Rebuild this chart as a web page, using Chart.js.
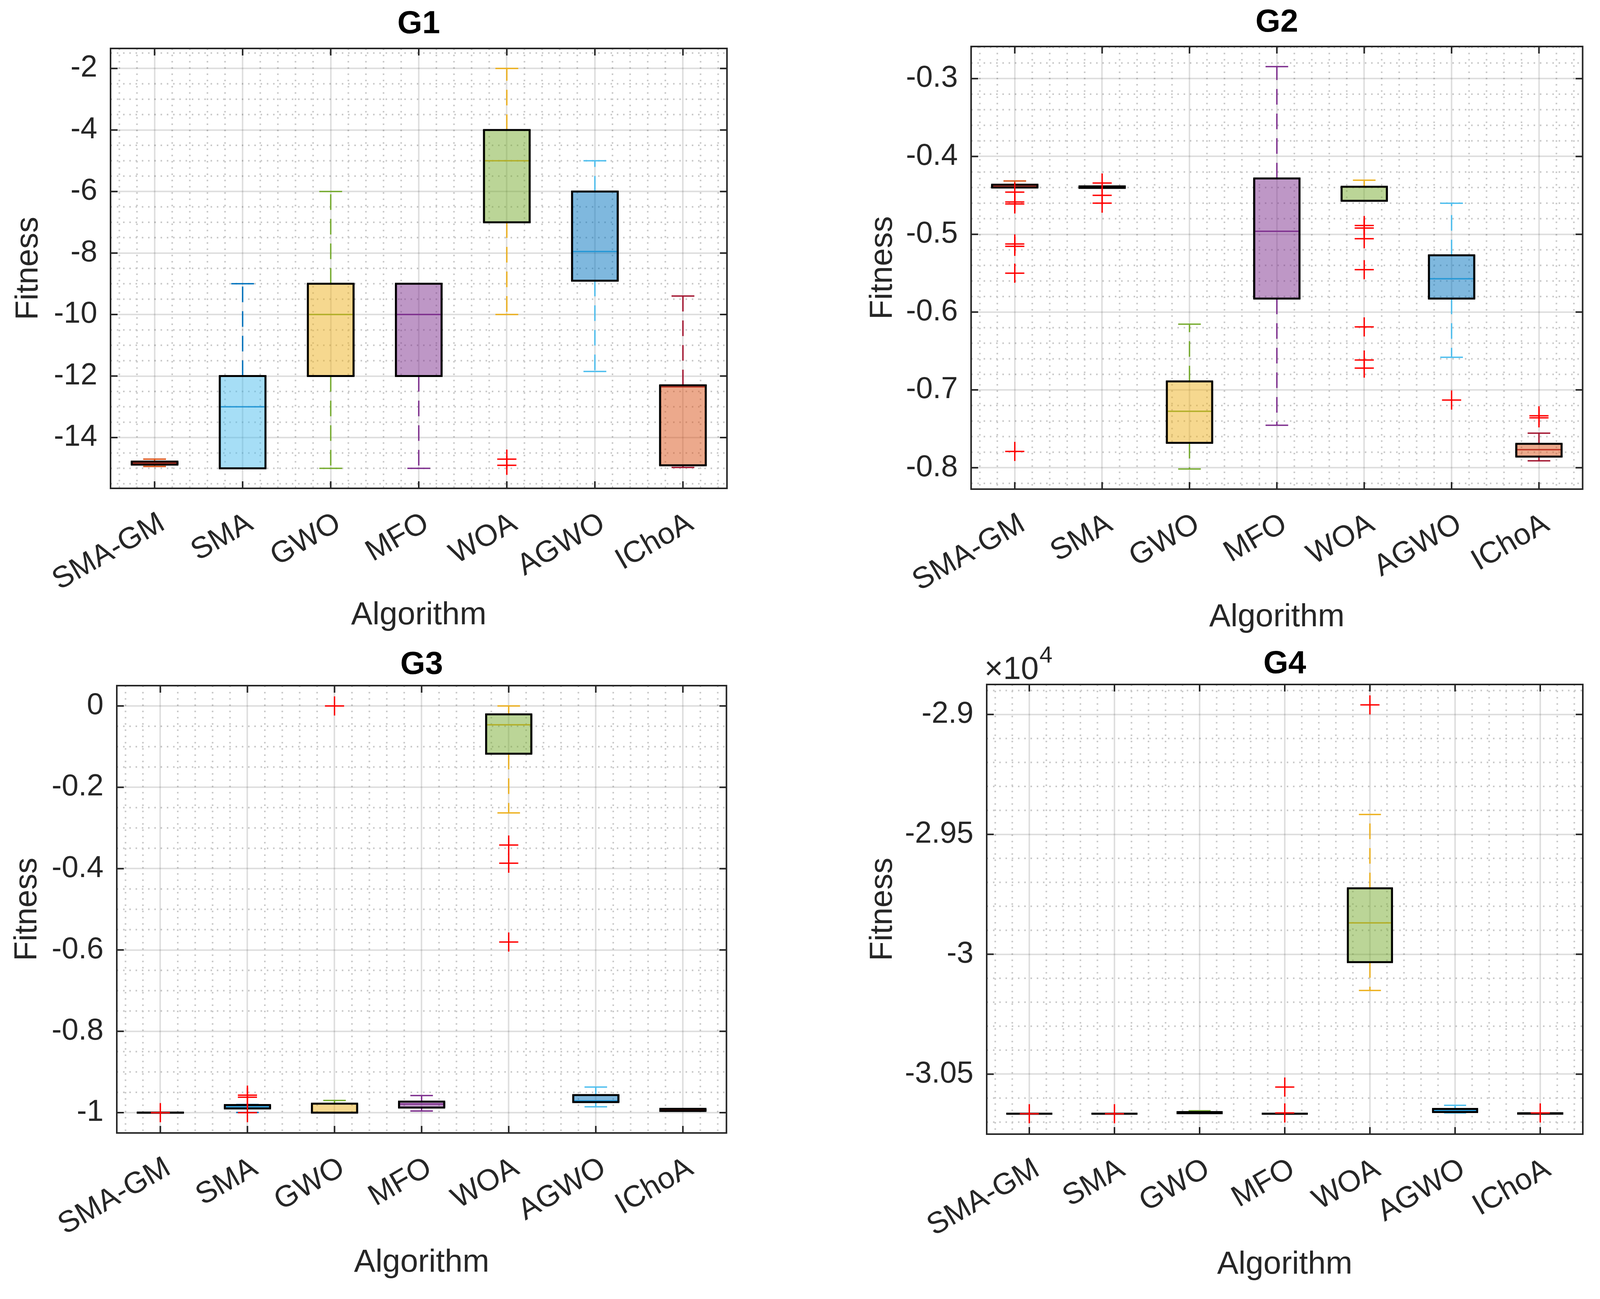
<!DOCTYPE html>
<html>
<head>
<meta charset="utf-8">
<script src="https://cdn.jsdelivr.net/npm/chart.js@4.4.1/dist/chart.umd.min.js"></script>
<style>
    html, body { margin: 0; padding: 0; background: #fff; }
    body { position: relative; width: 4117px; height: 3325px; overflow: hidden; }
    canvas { position: absolute; }
</style>
</head>
<body>
<canvas id="g1"></canvas>
<canvas id="g2"></canvas>
<canvas id="g3"></canvas>
<canvas id="g4"></canvas>
<script>
const algorithms = ["SMA-GM", "SMA", "GWO", "MFO", "WOA", "AGWO", "IChoA"];

// G1
const g1Min = [-14.94, -15.0, -15.0, -15.0, -10.0, -11.85, -14.97];
const g1Q1 = [-14.88, -15.0, -12.0, -12.0, -7.0, -8.9, -14.9];
const g1Med = [-14.83, -13.0, -10.0, -10.0, -5.0, -7.95, -12.35];
const g1Q3 = [-14.78, -12.0, -9.0, -9.0, -4.0, -6.0, -12.3];
const g1Max = [-14.7, -9.0, -6.0, -9.0, -2.0, -5.0, -9.4];
const g1Out = [[], [], [], [], [-14.7, -14.9], [], []];
const g1YTicks = [-14, -12, -10, -8, -6, -4, -2];
const g1YLabels = ["-14", "-12", "-10", "-8", "-6", "-4", "-2"];

// G2
const g2Min = [-0.44, -0.4405, -0.8016, -0.7454, -0.457, -0.658, -0.791];
const g2Q1 = [-0.44, -0.4405, -0.768, -0.5826, -0.457, -0.5826, -0.7857];
const g2Med = [-0.4384, -0.44, -0.7274, -0.4962, -0.4392, -0.5572, -0.7767];
const g2Q3 = [-0.4363, -0.4385, -0.689, -0.4283, -0.4389, -0.527, -0.7692];
const g2Max = [-0.4315, -0.4385, -0.6155, -0.2846, -0.4305, -0.4601, -0.7555];
const g2Out = [
    [-0.4458, -0.4585, -0.461, -0.5125, -0.5155, -0.55, -0.779],
    [-0.4342, -0.45, -0.46],
    [],
    [],
    [-0.4888, -0.492, -0.5057, -0.5455, -0.619, -0.6616, -0.672],
    [-0.713],
    [-0.7332, -0.7358],
];
const g2YTicks = [-0.8, -0.7, -0.6, -0.5, -0.4, -0.3];
const g2YLabels = ["-0.8", "-0.7", "-0.6", "-0.5", "-0.4", "-0.3"];

// G3
const g3Min = [-1.0, -0.9995, -1.0, -0.996, -0.263, -0.9856, -0.996];
const g3Q1 = [-1.0, -0.9897, -1.0, -0.9876, -0.1175, -0.974, -0.996];
const g3Med = [-1.0, -0.9856, -0.9995, -0.979, -0.0464, -0.971, -0.993];
const g3Q3 = [-1.0, -0.9814, -0.978, -0.973, -0.0206, -0.9567, -0.9907];
const g3Max = [-1.0, -0.98, -0.97, -0.958, 0.0, -0.937, -0.9907];
const g3Out = [[-1.0], [-0.957, -0.962, -1.0], [0.0], [], [-0.342, -0.3866, -0.5804], [], []];
const g3YTicks = [-1, -0.8, -0.6, -0.4, -0.2, 0];
const g3YLabels = ["-1", "-0.8", "-0.6", "-0.4", "-0.2", "0"];

// G4
const g4Min = [-30665, -30665, -30663, -30665, -30151, -30662, -30665];
const g4Q1 = [-30665, -30665, -30663, -30665, -30033, -30658, -30665];
const g4Med = [-30665, -30665, -30660, -30665, -29869, -30652, -30663];
const g4Q3 = [-30665, -30665, -30658, -30665, -29725, -30645, -30663];
const g4Max = [-30665, -30665, -30653, -30665, -29417, -30630, -30663];
const g4Out = [[-30665], [-30665], [], [-30554, -30662], [-28960], [], [-30662]];
const g4YTicks = [-30500, -30000, -29500, -29000];
const g4YLabels = ["-3.05", "-3", "-2.95", "-2.9"];

const lineColors = ["#D95319", "#0072BD", "#77AC30", "#7E2F8E", "#EDB120", "#4DBEEE", "#A2142F"];
const fillColors = [
    "rgba(162,20,47,0.5)",
    "rgba(77,190,238,0.5)",
    "rgba(237,177,32,0.5)",
    "rgba(126,47,142,0.5)",
    "rgba(119,172,48,0.5)",
    "rgba(0,114,189,0.5)",
    "rgba(217,83,25,0.5)",
];

Chart.defaults.font.family = '"Liberation Sans", Arial, sans-serif';
Chart.defaults.color = "#262626";

// minor grid, box frame, inward ticks, exponent label
const matlabAxes = {
    id: "matlabAxes",
    beforeDatasetsDraw(chart, args, opts) {
        const { ctx, chartArea: a, scales } = chart;
        const x = scales.x, y = scales.y;
        ctx.save();
        ctx.beginPath();
        ctx.rect(a.left, a.top, a.width, a.height);
        ctx.clip();
        ctx.strokeStyle = "rgba(38,38,38,0.25)";
        ctx.lineWidth = 4;
        ctx.setLineDash([4, 12]);
        ctx.beginPath();
        for (let k = Math.ceil(y.min / opts.yMinor); k * opts.yMinor <= y.max; k++) {
            if (k % opts.yRatio === 0) continue;
            const py = y.getPixelForValue(k * opts.yMinor);
            ctx.moveTo(a.left, py);
            ctx.lineTo(a.right, py);
        }
        for (let k = Math.ceil(x.min / 0.2); k * 0.2 <= x.max; k++) {
            if (k % 5 === 0) continue;
            const px = x.getPixelForValue(k * 0.2);
            ctx.moveTo(px, a.top);
            ctx.lineTo(px, a.bottom);
        }
        ctx.stroke();
        ctx.restore();
    },
    afterDatasetsDraw(chart, args, opts) {
        const { ctx, chartArea: a, scales } = chart;
        const x = scales.x, y = scales.y;
        ctx.save();
        ctx.strokeStyle = "#262626";
        ctx.lineWidth = 4;
        ctx.beginPath();
        y.ticks.forEach((t) => {
            const py = y.getPixelForValue(t.value);
            ctx.moveTo(a.left, py);
            ctx.lineTo(a.left + 18, py);
            ctx.moveTo(a.right, py);
            ctx.lineTo(a.right - 18, py);
        });
        x.ticks.forEach((t) => {
            const px = x.getPixelForValue(t.value);
            ctx.moveTo(px, a.bottom);
            ctx.lineTo(px, a.bottom - 18);
            ctx.moveTo(px, a.top);
            ctx.lineTo(px, a.top + 18);
        });
        ctx.stroke();
        ctx.strokeRect(a.left, a.top, a.width, a.height);
        if (opts.exponent) {
            ctx.fillStyle = "#262626";
            ctx.textAlign = "left";
            ctx.textBaseline = "alphabetic";
            ctx.font = '82px "Liberation Sans", Arial, sans-serif';
            const bx = a.left - 6;
            const by = a.top - 14;
            ctx.fillText("\u00d710", bx, by);
            const w = ctx.measureText("\u00d710").width;
            ctx.font = '60px "Liberation Sans", Arial, sans-serif';
            ctx.fillText(opts.exponent, bx + w + 2, by - 42);
        }
        ctx.restore();
    },
};

function boxChart(p, d) {
    const el = document.getElementById(p.id);
    const width = p.R + 8 - p.left;
    const height = 124 + (p.B - p.T) + p.XH;
    el.width = width;
    el.height = height;
    el.style.left = p.left + "px";
    el.style.top = p.T - 124 + "px";

    const xs = algorithms.map((_, i) => i + 1);
    const boxPx = ((p.R - p.L) / algorithms.length) * 0.5;
    const all = d.min.concat(d.max, d.out.flat());
    const lo = Math.min(...all);
    const hi = Math.max(...all);
    const pad = (hi - lo) * 0.05;
    const titleTop = 124 - p.titleGap - 49.2;

    const datasets = [];
    xs.forEach((x, i) => {
        const whisker = {
            type: "line",
            borderColor: lineColors[i],
            borderWidth: 3.5,
            borderDash: [40, 23],
            pointRadius: 0,
            fill: false,
            order: 3,
        };
        datasets.push({ ...whisker, data: [{ x, y: d.q3[i] }, { x, y: d.max[i] }] });
        datasets.push({ ...whisker, data: [{ x, y: d.q1[i] }, { x, y: d.min[i] }] });
    });
    // whisker caps
    datasets.push({
        type: "scatter",
        data: xs.flatMap((x, i) => [{ x, y: d.max[i] }, { x, y: d.min[i] }]),
        pointStyle: "line",
        pointRadius: boxPx / 4,
        pointBorderWidth: 3.5,
        pointBorderColor: xs.flatMap((x, i) => [lineColors[i], lineColors[i]]),
        order: 3,
    });
    // medians
    datasets.push({
        type: "scatter",
        data: xs.map((x, i) => ({ x, y: d.med[i] })),
        pointStyle: "line",
        pointRadius: boxPx / 2,
        pointBorderWidth: 3.5,
        pointBorderColor: lineColors,
        order: 3,
    });
    // boxes
    datasets.push({
        type: "bar",
        data: xs.map((x, i) => ({ x, y: [d.q1[i], d.q3[i]] })),
        backgroundColor: fillColors,
        borderColor: "#000",
        borderWidth: { left: 5, right: 5, top: 0, bottom: 0 },
        borderSkipped: false,
        barThickness: boxPx + 5,
        order: 2,
    });
    // box top and bottom edges
    datasets.push({
        type: "scatter",
        data: xs.flatMap((x, i) => [{ x, y: d.q1[i] }, { x, y: d.q3[i] }]),
        pointStyle: "line",
        pointRadius: (boxPx + 5) / 2,
        pointBorderWidth: 5,
        pointBorderColor: "#000",
        order: 1,
    });
    // outliers
    datasets.push({
        type: "scatter",
        data: xs.flatMap((x, i) => d.out[i].map((v) => ({ x, y: v }))),
        pointStyle: "cross",
        pointRadius: 24.5,
        pointBorderWidth: 3.5,
        pointBorderColor: "#FF0000",
        order: 0,
    });

    new Chart(el, {
        type: "bar",
        data: { datasets },
        plugins: [matlabAxes],
        options: {
            responsive: false,
            animation: false,
            devicePixelRatio: 1,
            events: [],
            layout: { padding: { right: 8 } },
            plugins: {
                legend: { display: false },
                tooltip: { enabled: false },
                title: {
                    display: true,
                    text: p.title,
                    fullSize: false,
                    color: "#000",
                    font: { size: 82, weight: "bold" },
                    padding: { top: titleTop, bottom: 124 - 98.4 - titleTop },
                },
                matlabAxes: { yMinor: d.yMinor, yRatio: d.yRatio, exponent: d.exponent },
            },
            scales: {
                x: {
                    type: "linear",
                    min: 0.5,
                    max: 7.5,
                    offset: false,
                    afterFit: (s) => { s.height = p.XH; },
                    afterBuildTicks: (s) => { s.ticks = xs.map((v) => ({ value: v })); },
                    grid: { color: "rgba(38,38,38,0.15)", lineWidth: 4, drawTicks: false, offset: false },
                    border: { display: false },
                    ticks: {
                        autoSkip: false,
                        minRotation: 30,
                        maxRotation: 30,
                        padding: 44,
                        labelOffset: 20,
                        font: { size: 77 },
                        color: "#262626",
                        callback: (v) => algorithms[v - 1],
                    },
                    title: {
                        display: true,
                        text: "Algorithm",
                        font: { size: 82 },
                        color: "#262626",
                        padding: { top: 0, bottom: 0 },
                    },
                },
                y: {
                    type: "linear",
                    min: lo - pad,
                    max: hi + pad,
                    afterFit: (s) => { s.width = p.L - p.left; },
                    afterBuildTicks: (s) => { s.ticks = d.yTicks.map((v) => ({ value: v })); },
                    grid: { color: "rgba(38,38,38,0.15)", lineWidth: 4, drawTicks: false },
                    border: { display: false },
                    ticks: {
                        padding: 34,
                        font: { size: 77 },
                        color: "#262626",
                        callback: (v, i) => d.yLabels[i],
                    },
                    title: {
                        display: true,
                        text: "Fitness",
                        font: { size: 82 },
                        color: "#262626",
                        padding: { top: p.yTitlePad, bottom: 0 },
                    },
                },
            },
        },
    });
}

boxChart(
    { id: "g1", title: "G1", left: 0, L: 283, T: 124, R: 1919, B: 1250, XH: 375, yTitlePad: 24, titleGap: 62 },
    { min: g1Min, q1: g1Q1, med: g1Med, q3: g1Q3, max: g1Max, out: g1Out,
      yTicks: g1YTicks, yLabels: g1YLabels, yMinor: 0.5, yRatio: 4 }
);
boxChart(
    { id: "g2", title: "G2", left: 2187, L: 2486, T: 119, R: 4109, B: 1252, XH: 378, yTitlePad: 24, titleGap: 61 },
    { min: g2Min, q1: g2Q1, med: g2Med, q3: g2Q3, max: g2Max, out: g2Out,
      yTicks: g2YTicks, yLabels: g2YLabels, yMinor: 0.02, yRatio: 5 }
);
boxChart(
    { id: "g3", title: "G3", left: 0, L: 299, T: 1755, R: 1917, B: 2900, XH: 382, yTitlePad: 21, titleGap: 53 },
    { min: g3Min, q1: g3Q1, med: g3Med, q3: g3Q3, max: g3Max, out: g3Out,
      yTicks: g3YTicks, yLabels: g3YLabels, yMinor: 0.05, yRatio: 4 }
);
boxChart(
    { id: "g4", title: "G4", left: 2187, L: 2526, T: 1752, R: 4108, B: 2903, XH: 384, yTitlePad: 24, titleGap: 52 },
    { min: g4Min, q1: g4Q1, med: g4Med, q3: g4Q3, max: g4Max, out: g4Out,
      yTicks: g4YTicks, yLabels: g4YLabels, yMinor: 100, yRatio: 5, exponent: "4" }
);
</script>
</body>
</html>
